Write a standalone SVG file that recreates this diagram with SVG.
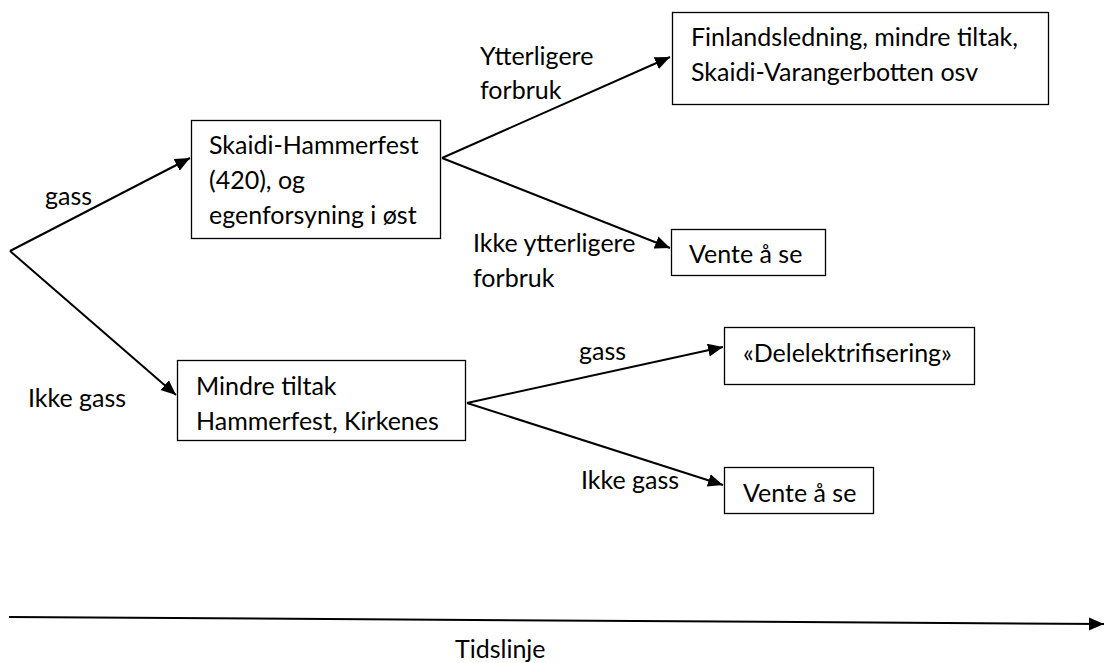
<svg xmlns="http://www.w3.org/2000/svg" width="1104" height="663" viewBox="0 0 1104 663">
<style>
  text { font-family: Lato, "Open Sans", "Liberation Sans", sans-serif; font-size: 25px; fill: #000; }
  .box { fill: #fff; stroke: #000; stroke-width: 1.3; }
  .edge { fill: none; stroke: #000; stroke-width: 2; }
</style>
<defs>
  <marker id="arr" markerUnits="userSpaceOnUse" markerWidth="16" markerHeight="14" refX="15" refY="6.5" orient="auto">
    <path d="M0,0 L15,6.5 L0,13 z" fill="#000"/>
  </marker>
</defs>
<g id="connectors">
  <path class="edge" d="M10,251 L190,158" marker-end="url(#arr)"/>
  <path class="edge" d="M10,251 L176,395" marker-end="url(#arr)"/>
  <path class="edge" d="M442,158 L670,57" marker-end="url(#arr)"/>
  <path class="edge" d="M442,158 L670,248" marker-end="url(#arr)"/>
  <path class="edge" d="M467,403 L723,347" marker-end="url(#arr)"/>
  <path class="edge" d="M467,403 L723,485" marker-end="url(#arr)"/>
  <path class="edge" d="M9,617 L1104,624" marker-end="url(#arr)"/>
</g>
<g id="labels">
  <text x="45" y="205">gass</text>
  <text x="28" y="407">Ikke gass</text>
  <text x="480" y="65">Ytterligere</text>
  <text x="480" y="99">forbruk</text>
  <text x="473" y="252">Ikke ytterligere</text>
  <text x="473" y="287">forbruk</text>
  <text x="579" y="360">gass</text>
  <text x="581" y="489">Ikke gass</text>
  <text x="455" y="658">Tidslinje</text>
</g>
<g id="node-skaidi-hammerfest">
  <rect class="box" x="191.5" y="120.5" width="249" height="118"/>
  <text x="209" y="154">Skaidi-Hammerfest</text>
  <text x="209" y="189">(420), og</text>
  <text x="209" y="224">egenforsyning i øst</text>
</g>
<g id="node-mindre-tiltak">
  <rect class="box" x="177.5" y="360.5" width="288" height="80"/>
  <text x="196" y="395">Mindre tiltak</text>
  <text x="196" y="430">Hammerfest, Kirkenes</text>
</g>
<g id="node-finlandsledning">
  <rect class="box" x="672.5" y="12.5" width="376" height="92"/>
  <text x="691" y="46">Finlandsledning, mindre tiltak,</text>
  <text x="691" y="81">Skaidi-Varangerbotten osv</text>
</g>
<g id="node-vente1">
  <rect class="box" x="671.5" y="229.5" width="154" height="46"/>
  <text x="689" y="263">Vente å se</text>
</g>
<g id="node-delelektrifisering">
  <rect class="box" x="724.5" y="327.5" width="250" height="57"/>
  <text x="743" y="362">«Delelektrifisering»</text>
</g>
<g id="node-vente2">
  <rect class="box" x="724.5" y="467.5" width="149" height="46"/>
  <text x="743" y="502">Vente å se</text>
</g>
</svg>
